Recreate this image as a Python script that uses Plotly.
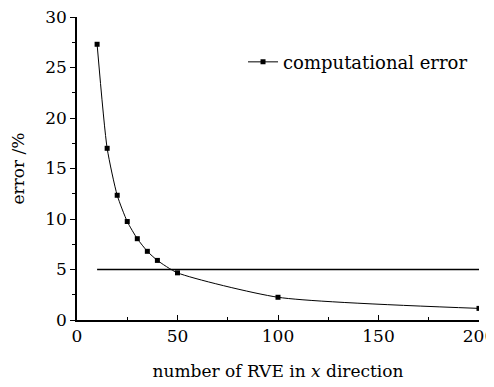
import plotly.graph_objects as go

rve_count = [10, 15, 20, 25, 30, 35, 40, 50, 100, 200]
error_pct = [27.3, 17.0, 12.35, 9.75, 8.05, 6.8, 5.9, 4.67, 2.25, 1.15]
ref_x = [10, 200]
ref_y = [5, 5]
x_ticks = [0, 50, 100, 150, 200]
y_ticks = [0, 5, 10, 15, 20, 25, 30]

FONT = "DejaVu Serif"

# page body has an 8px default margin; compensate so the plot sits where the reference does
fig = go.Figure()
fig.add_trace(go.Scatter(
    x=rve_count, y=error_pct, mode="lines+markers",
    name="computational error",
    line=dict(color="black", width=1, shape="spline", smoothing=0.6),
    marker=dict(symbol="square", size=5, color="black"),
))
fig.add_trace(go.Scatter(
    x=ref_x, y=ref_y, mode="lines", showlegend=False,
    line=dict(color="black", width=1.5),
))

fig.update_layout(
    width=486, height=379,
    margin=dict(l=69, r=15, t=9, b=67, autoexpand=False),
    paper_bgcolor="white", plot_bgcolor="white",
    font=dict(family=FONT, size=17, color="black"),
    legend=dict(x=0.413, y=0.851, xanchor="left", yanchor="middle",
                bgcolor="rgba(0,0,0,0)", font=dict(size=18)),
    xaxis=dict(
        range=[0, 200], tickvals=x_ticks, showgrid=False, zeroline=False,
        showline=True, linecolor="black", linewidth=1.5, automargin=False,
        ticks="inside", ticklen=5, tickcolor="black", ticklabeloverflow="allow",
        minor=dict(dtick=25, ticks="inside", ticklen=3, tickcolor="black"),
        title=dict(text="number of RVE in <i>x</i> direction", font=dict(size=17), standoff=20),
        tickfont=dict(size=17),
    ),
    yaxis=dict(
        range=[0, 30], tickvals=y_ticks, showgrid=False, zeroline=False,
        showline=True, linecolor="black", linewidth=1.5, automargin=False,
        ticks="outside", ticklen=5, tickcolor="black", ticklabeloverflow="allow",
        minor=dict(dtick=2.5, ticks="outside", ticklen=3, tickcolor="black"),
        title=dict(text="error /%", font=dict(size=17), standoff=18),
        tickfont=dict(size=17),
    ),
)

fig.write_html("out.html")
